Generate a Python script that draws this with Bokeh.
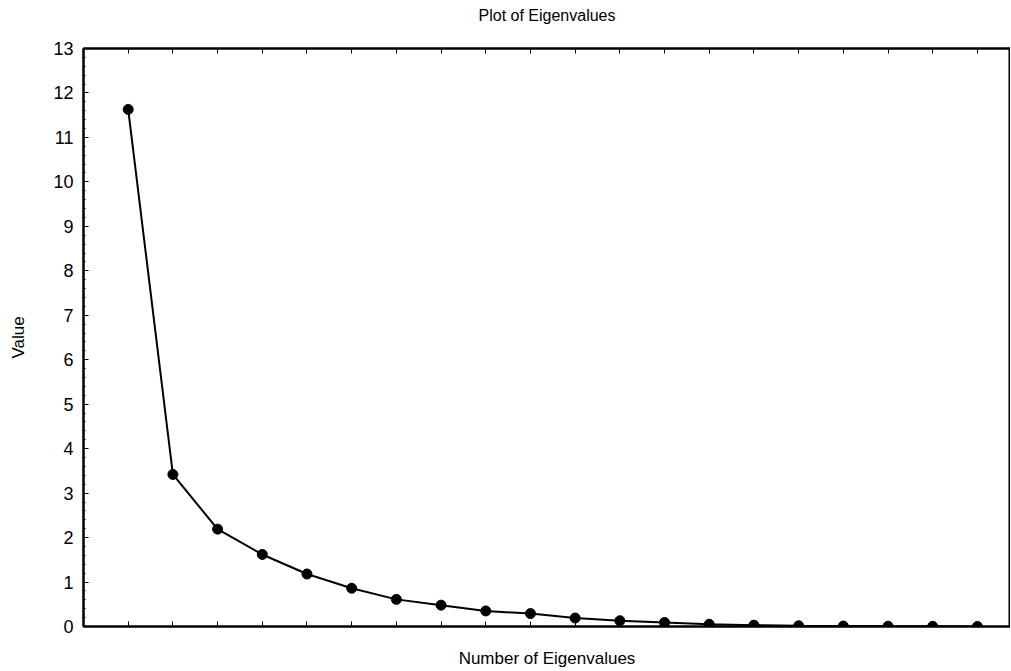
from bokeh.plotting import figure
from bokeh.models import Range1d, LinearAxis, FixedTicker, Title, CustomJSTickFormatter
from bokeh.embed import file_html
from bokeh.resources import INLINE

component = list(range(1, 21))
eigenvalues = [11.63, 3.42, 2.19, 1.62, 1.18, 0.86, 0.61, 0.48, 0.35, 0.29,
               0.19, 0.13, 0.09, 0.05, 0.03, 0.015, 0.01, 0.006, 0.003, 0.001]
y_ticks = list(range(0, 14))
title_text = "Plot of Eigenvalues"

FONT = "Liberation Sans"
X_END = 20.74

p = figure(width=1010, height=670, output_backend="svg", toolbar_location=None,
           x_range=Range1d(0, X_END), y_range=Range1d(0, 13),
           min_border_left=83, min_border_right=0, min_border_top=48, min_border_bottom=40)
p.title = Title(text=title_text + "\n ", align="center", vertical_align="bottom", text_font=FONT,
                text_font_size="16px", text_font_style="normal", text_color="black",
                text_line_height=1.45, standoff=0)
p.grid.visible = False
p.outline_line_color = "black"
p.outline_line_width = 2

p.line(component, eigenvalues, line_color="black", line_width=2)
p.scatter(component, eigenvalues, size=10, fill_color="black", line_color="black")

blank = CustomJSTickFormatter(code="return ''")

xa = p.xaxis[0]
xa.ticker = FixedTicker(ticks=component)
xa.formatter = blank
xa.major_tick_in = 5
xa.major_tick_out = 0
xa.minor_tick_line_color = None
xa.axis_line_width = 2
xa.axis_label = "Number of Eigenvalues"
xa.axis_label_text_font = FONT
xa.axis_label_text_font_size = "17px"
xa.axis_label_text_font_style = "normal"
xa.axis_label_text_color = "black"
xa.axis_label_standoff = 22

ya = p.yaxis[0]
ya.ticker = FixedTicker(ticks=y_ticks, minor_ticks=[t / 5 for t in range(0, 66)])
ya.major_tick_in = 5
ya.major_tick_out = 0
ya.minor_tick_in = 2
ya.minor_tick_out = 0
ya.axis_line_width = 2
ya.major_label_text_font = FONT
ya.major_label_text_font_size = "18px"
ya.major_label_text_color = "black"
ya.major_label_standoff = 10
ya.axis_label = "Value"
ya.axis_label_text_font = FONT
ya.axis_label_text_font_size = "17px"
ya.axis_label_text_font_style = "normal"
ya.axis_label_text_color = "black"
ya.axis_label_standoff = 22

top = LinearAxis(ticker=FixedTicker(ticks=component), formatter=blank,
                 major_tick_in=5, major_tick_out=0, minor_tick_line_color=None,
                 axis_line_width=2)
p.add_layout(top, "above")

out = file_html(p, INLINE)
open("out.html", "w").write(out)
